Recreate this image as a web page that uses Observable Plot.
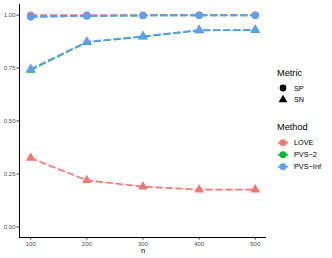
<!DOCTYPE html>
<html><head><meta charset="utf-8">
<script src="https://cdn.jsdelivr.net/npm/d3@7"></script>
<script src="https://cdn.jsdelivr.net/npm/@observablehq/plot@0.6"></script>
<style>body{margin:0;background:#fff;font-family:"Liberation Sans",Arial,sans-serif}</style>
</head><body><div id="chart"></div>
<script>
const ns = [100, 200, 300, 400, 500];
const methods = ["LOVE", "PVS\u22122", "PVS\u2212Inf"];
const metrics = ["SP", "SN"];
const colors = ["#F8766D", "#00BA38", "#619CFF"];
const loveSP = [1.0, 1.0, 1.0, 1.0, 1.0];
const loveSN = [0.325, 0.22, 0.19, 0.176, 0.176];
const pvs2SP = [0.992, 0.996, 0.998, 0.999, 0.999];
const pvs2SN = [0.741, 0.872, 0.898, 0.928, 0.929];
const pvsInfSP = [0.992, 0.996, 0.998, 0.999, 0.999];
const pvsInfSN = [0.745, 0.874, 0.900, 0.929, 0.930];
const yTicks = [0, 0.25, 0.5, 0.75, 1];

const series = [
  [methods[0], "SP", loveSP], [methods[0], "SN", loveSN],
  [methods[1], "SP", pvs2SP], [methods[1], "SN", pvs2SN],
  [methods[2], "SP", pvsInfSP], [methods[2], "SN", pvsInfSN]
];
const data = series.flatMap(([m, k, vals]) => vals.map((v, i) => ({n: ns[i], value: v, method: m, metric: k, key: m + "|" + k})));

const W = 332, H = 258;
const plot = Plot.plot({
  width: W, height: H,
  marginLeft: 19, marginRight: 66, marginTop: 4, marginBottom: 21,
  style: {fontFamily: "Liberation Sans, Arial, sans-serif", background: "#fff"},
  x: {domain: [80, 520], label: null},
  y: {domain: [-0.05, 1.05], label: null},
  color: {domain: methods, range: colors},
  symbol: {domain: metrics, range: ["circle", "triangle"]},
  marks: [
    Plot.axisX({ticks: ns, tickFormat: d3.format("d"), tickSize: 2.5, fontSize: 6, color: "#4D4D4D", stroke: "#333", tickPadding: 1.5, label: null}),
    Plot.axisY({ticks: yTicks, tickFormat: d3.format(".2f"), tickSize: 2.5, fontSize: 6, color: "#4D4D4D", stroke: "#333", tickPadding: 1.5, label: null}),
    Plot.ruleX([80], {y1: -0.05, y2: 1.05, stroke: "#000", strokeWidth: 1}),
    Plot.ruleY([-0.05], {x1: 80, x2: 520, stroke: "#000", strokeWidth: 1}),
    Plot.line(data, {x: "n", y: "value", z: "key", stroke: "method", strokeWidth: 1.7, strokeDasharray: "6,4"}),
    Plot.dot(data, {x: "n", y: "value", fill: "method", symbol: "metric", r: 3.6, stroke: "none"}),
    Plot.text(["n"], {frameAnchor: "bottom", dy: 15.5, fontSize: 7.5, fill: "#000"})
  ]
});
document.getElementById("chart").appendChild(plot);

// legend
const svg = d3.select(plot);
const g = svg.append("g").attr("font-family", "Liberation Sans, Arial, sans-serif").attr("text-anchor", "start").attr("font-weight", "normal");
g.append("text").attr("x", 277).attr("y", 76).attr("font-size", 9.2).attr("fill", "#000").text("Metric");
metrics.forEach((k, i) => {
  const y = 88 + i * 11.8;
  const sym = d3.symbol().type(k === "SP" ? d3.symbolCircle : d3.symbolTriangle).size(k === "SP" ? 36 : 34);
  g.append("path").attr("d", sym()).attr("transform", `translate(283,${y})`).attr("fill", "#000");
  g.append("text").attr("x", 294).attr("y", y + 2.6).attr("font-size", 7.3).attr("fill", "#000").text(k);
});
g.append("text").attr("x", 277).attr("y", 130).attr("font-size", 9.2).attr("fill", "#000").text("Method");
methods.forEach((m, i) => {
  const y = 142.7 + i * 12;
  g.append("line").attr("x1", 278).attr("x2", 288).attr("y1", y).attr("y2", y).attr("stroke", colors[i]).attr("stroke-width", 1.7);
  g.append("circle").attr("cx", 283).attr("cy", y).attr("r", 3.4).attr("fill", colors[i]);
  g.append("text").attr("x", 294).attr("y", y + 2.6).attr("font-size", 7.3).attr("fill", "#000").text(m);
});
</script></body></html>
